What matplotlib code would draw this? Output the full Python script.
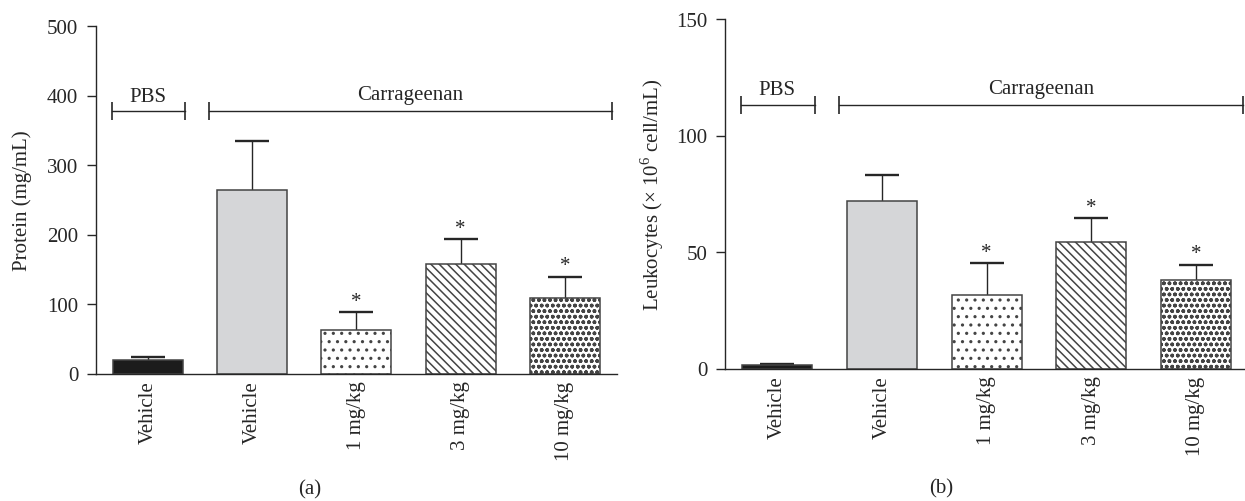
import matplotlib
matplotlib.use("Agg")
import matplotlib.pyplot as plt
import numpy as np

# --------------------------------------------------
# Data
# --------------------------------------------------
groups = ["Vehicle", "Vehicle", "1 mg/kg", "3 mg/kg", "10 mg/kg"]

protein_mean = [19, 264, 63, 158, 108.5]
protein_sem = [4.5, 70, 25, 35, 30.5]

leuko_mean = [1.3, 72, 31.6, 54.5, 38]
leuko_sem = [0.8, 11, 13.6, 10, 6.5]

signif = [False, False, True, True, True]

# --------------------------------------------------
# Style
# --------------------------------------------------
plt.rcParams["font.family"] = ["Liberation Serif", "DejaVu Serif"]
plt.rcParams["mathtext.fontset"] = "custom"
plt.rcParams["mathtext.rm"] = "Liberation Serif"
plt.rcParams["hatch.linewidth"] = 1.1

FS = 15
line_col = "#262626"
edge_col = "#444444"
faces = ["#1c1c1c", "#d5d6d8", "white", "white", "white"]
hatches = [None, None, "..", "\\\\\\\\", "ooo"]

fig = plt.figure(figsize=(12.45, 5.02), dpi=100)
W, H = 1245, 502

def px_axes(left, right, top, bottom):
    return fig.add_axes([left / W, 1 - bottom / H, (right - left) / W, (bottom - top) / H])

ax_a = px_axes(95.7, 617, 27, 374.5)
ax_b = px_axes(725, 1245, 20, 369.5)


def draw_panel(ax, means, sems, ymax, yticks, ylabel, label_x, bracket_y):
    x = np.arange(len(groups))
    for i in range(len(groups)):
        ax.bar(x[i], means[i], width=0.67, color=faces[i], edgecolor=edge_col,
               linewidth=1.1, hatch=hatches[i], zorder=2)
    _, caps, _ = ax.errorbar(x, means, yerr=[np.zeros(len(sems)), sems], fmt="none",
                             ecolor=line_col, elinewidth=1.0, capsize=12.5,
                             capthick=1.7, zorder=1)
    caps[0].set_visible(False)  # only the upper half is drawn

    tops = np.array(means) + np.array(sems)
    for i in range(len(groups)):
        if signif[i]:
            ax.annotate("*", (x[i], tops[i]), xytext=(0, 8), textcoords="offset points",
                        ha="center", va="center", fontsize=FS, color=line_col)

    # group brackets
    ax.plot([-0.345, 0.36], [bracket_y, bracket_y], color=line_col, lw=1.0,
            marker="|", ms=13, mew=1.2, clip_on=False)
    ax.plot([0.585, 4.45], [bracket_y, bracket_y], color=line_col, lw=1.0,
            marker="|", ms=13, mew=1.2, clip_on=False)
    ax.annotate("PBS", (0.0, bracket_y), xytext=(0, 11), textcoords="offset points",
                ha="center", va="center", fontsize=FS, color=line_col)
    ax.annotate("Carrageenan", (2.52, bracket_y), xytext=(0, 12), textcoords="offset points",
                ha="center", va="center", fontsize=FS, color=line_col)

    ax.set_ylim(0, ymax)
    ax.set_yticks(yticks)
    ax.set_xticks(x)
    ax.set_xticklabels(groups, rotation=90, fontsize=FS, color=line_col)
    ax.tick_params(axis="x", length=0, pad=5)
    ax.tick_params(axis="y", length=6.5, width=1.0, color=line_col, labelsize=FS,
                   labelcolor=line_col, pad=6)
    ax.set_ylabel(ylabel, fontsize=FS, color=line_col)
    ax.yaxis.set_label_coords(label_x, 0.5)
    for s in ["top", "right"]:
        ax.spines[s].set_visible(False)
    for s in ["left", "bottom"]:
        ax.spines[s].set_color(line_col)
        ax.spines[s].set_linewidth(1.0)


draw_panel(ax_a, protein_mean, protein_sem, 500, [0, 100, 200, 300, 400, 500],
           "Protein (mg/mL)", -0.122, 377)
ax_a.set_xlim(-0.5, 4.5)

draw_panel(ax_b, leuko_mean, leuko_sem, 150, [0, 50, 100, 150],
           r"Leukocytes ($\times$ 10$^6$ cell/mL)", -0.114, 113)
ax_b.set_xlim(-0.5, 4.47)

fig.text(310 / W, 1 - 490 / H, "(a)", ha="center", va="center", fontsize=FS, color=line_col)
fig.text(941 / W, 1 - 489 / H, "(b)", ha="center", va="center", fontsize=FS, color=line_col)

fig.savefig("out.png", dpi=100)
